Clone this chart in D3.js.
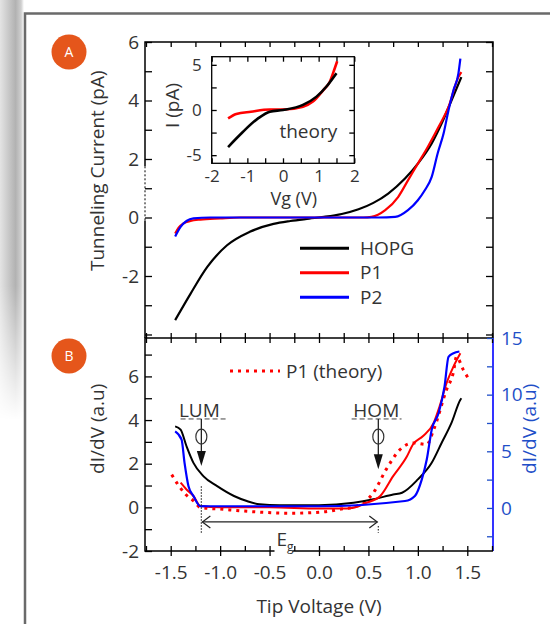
<!DOCTYPE html>
<html>
<head>
<meta charset="utf-8">
<script src="https://cdn.jsdelivr.net/npm/d3@7"></script>
<style>
body { margin: 0; background: #fff; }
svg { display: block; font-family: "Open Sans", sans-serif; }
</style>
</head>
<body>
<svg></svg>
<script>
// Panel A - tunneling current (pA) vs tip voltage (V)
var hopgV = [-1.455, -1.30, -1.13, -0.93, -0.70, -0.46, -0.29, -0.10, 0.05, 0.23, 0.40, 0.55, 0.70, 0.87, 1.00, 1.14, 1.24, 1.34, 1.44];
var hopgI = [-3.51, -2.61, -1.69, -0.95, -0.49, -0.22, -0.12, -0.04, 0.02, 0.12, 0.28, 0.50, 0.82, 1.33, 1.84, 2.53, 3.21, 4.00, 4.80];
var p1V = [-1.455, -1.42, -1.37, -1.30, -1.20, -1.00, -0.80, 0.00, 0.45, 0.53, 0.67, 0.80, 0.90, 1.00, 1.10, 1.21, 1.31, 1.41, 1.44];
var p1I = [-0.55, -0.35, -0.20, -0.12, -0.07, -0.03, 0.00, 0.00, 0.00, 0.02, 0.25, 0.70, 1.27, 1.84, 2.41, 3.10, 3.78, 4.80, 4.97];
var p2V = [-1.455, -1.40, -1.34, -1.27, -1.10, 0.00, 0.60, 0.77, 0.90, 1.00, 1.07, 1.14, 1.20, 1.26, 1.31, 1.36, 1.41, 1.43];
var p2I = [-0.65, -0.32, -0.12, -0.03, 0.00, 0.00, 0.00, 0.02, 0.25, 0.59, 0.93, 1.39, 2.19, 2.87, 3.67, 4.35, 4.92, 5.43];

// inset - theory I(Vg)
var thHopgV = [-1.54, -1.17, -0.70, -0.37, 0.00, 0.56, 0.94, 1.22, 1.50];
var thHopgI = [-4.10, -2.60, -0.93, -0.19, 0.00, 0.56, 1.48, 2.60, 4.07];
var thP1V = [-1.54, -1.31, -0.90, -0.37, 0.00, 0.56, 0.84, 1.13, 1.31, 1.45, 1.52];
var thP1I = [-0.93, -0.44, -0.19, 0.05, 0.05, 0.37, 0.93, 2.20, 3.10, 4.60, 5.40];

// Panel B - dI/dV (a.u)
var bHopgV = [-1.455, -1.40, -1.34, -1.27, -1.17, -1.03, -0.86, -0.73, -0.60, -0.40, 0.00, 0.35, 0.55, 0.75, 0.84, 1.00, 1.14, 1.24, 1.34, 1.43, 1.44];
var bHopgD = [3.71, 3.56, 2.80, 2.04, 1.43, 0.97, 0.52, 0.29, 0.14, 0.10, 0.10, 0.21, 0.37, 0.59, 0.67, 1.28, 2.04, 2.95, 3.87, 4.93, 5.00];
var bP2V = [-1.455, -1.39, -1.36, -1.32, -1.27, -1.20, -1.00, 0.00, 0.87, 0.97, 1.04, 1.09, 1.14, 1.21, 1.27, 1.31, 1.36, 1.42];
var bP2D = [3.48, 3.10, 2.04, 0.97, 0.52, 0.06, 0.05, 0.05, 0.29, 0.52, 1.28, 2.19, 3.56, 4.32, 5.54, 6.90, 7.06, 7.14];
var bP1V = [-1.40, -1.34, -1.27, -1.20, -1.00, -0.50, 0.00, 0.30, 0.48, 0.62, 0.75, 0.89, 0.95, 1.05, 1.16, 1.22, 1.29, 1.36, 1.43];
var bP1D = [1.13, 0.82, 0.52, 0.06, 0.00, 0.00, -0.05, -0.05, 0.21, 0.52, 1.43, 2.34, 2.88, 3.26, 3.87, 4.63, 5.69, 6.45, 7.06];
var bP1thV = [-1.49, -1.42, -1.35, -1.27, -1.20, -0.97, -0.63, -0.29, 0.04, 0.21, 0.38, 0.55, 0.68, 0.82, 0.95, 1.09, 1.16, 1.29, 1.36, 1.39, 1.46, 1.52];
var bP1thD = [1.50, 1.00, 0.60, 0.30, 0.00, -0.09, -0.21, -0.27, -0.21, -0.09, 0.06, 0.67, 1.74, 2.65, 2.95, 2.88, 3.56, 5.39, 6.20, 6.90, 6.30, 5.84];

// annotations (voltages)
var lumV = -1.19, homV = 0.60;

// ticks
var xTicks = [-1.5, -1.0, -0.5, 0.0, 0.5, 1.0, 1.5];
var xMinor = [-1.75, -1.5, -1.25, -1.0, -0.75, -0.5, -0.25, 0, 0.25, 0.5, 0.75, 1.0, 1.25, 1.5, 1.75];
var aYTicks = [-2, 0, 2, 4, 6];
var aYMinor = [-4, -3, -2, -1, 0, 1, 2, 3, 4, 5, 6];
var bYTicks = [-2, 0, 2, 4, 6];
var bYMinor = [-2, -1, 0, 1, 2, 3, 4, 5, 6, 7];
var bRTicks = [0, 5, 10, 15];
var bRMinor = [-2.5, 0, 2.5, 5, 7.5, 10, 12.5, 15];
var inXTicks = [-2, -1, 0, 1, 2];
var inXMinor = [-2, -1.5, -1, -0.5, 0, 0.5, 1, 1.5, 2];
var inYTicks = [-5, 0, 5];
var inYMinor = [-5, -2.5, 0, 2.5, 5];

function zip(xs, ys) {
    return xs.map(function (x, i) { return { x: x, y: ys[i] }; });
}

function axisGroup(parent, axis, tx, ty, size, color) {
    var g = parent.append('g')
        .attr('transform', 'translate(' + tx + ',' + ty + ')')
        .call(axis);
    g.select('.domain').remove();
    g.attr('font-family', null).attr('font-size', size);
    g.selectAll('line').attr('stroke', color || '#000').attr('stroke-width', 1.3);
    g.selectAll('text').attr('fill', color || '#333');
    return g;
}

function drawChart() {
    var svg = d3.select('svg').attr('width', 550).attr('height', 624);
    var defs = svg.append('defs');

    // grey shadow on the left edge
    var sh = defs.append('linearGradient').attr('id', 'shade');
    sh.append('stop').attr('offset', '0%').attr('stop-color', '#e4e4e4');
    sh.append('stop').attr('offset', '65%').attr('stop-color', '#b2b2b2');
    sh.append('stop').attr('offset', '88%').attr('stop-color', '#cfcfcf');
    sh.append('stop').attr('offset', '100%').attr('stop-color', '#fff');
    var fg = defs.append('linearGradient').attr('id', 'fadeG')
        .attr('x1', 0).attr('y1', 0).attr('x2', 0).attr('y2', 1);
    fg.append('stop').attr('offset', '0%').attr('stop-color', '#fff');
    fg.append('stop').attr('offset', '68%').attr('stop-color', '#fff');
    fg.append('stop').attr('offset', '100%').attr('stop-color', '#000');
    defs.append('mask').attr('id', 'fadeM')
        .append('rect').attr('x', 0).attr('y', 0).attr('width', 24).attr('height', 420)
        .attr('fill', 'url(#fadeG)');
    svg.append('rect').attr('x', 0).attr('y', 0).attr('width', 24).attr('height', 420)
        .attr('fill', 'url(#shade)').attr('mask', 'url(#fadeM)');

    // outer frame
    svg.append('path').attr('d', 'M25,640V13.5H560')
        .attr('fill', 'none').attr('stroke', '#6a6a6a').attr('stroke-width', 2.5);

    var left = 145, right = 493, topA = 42, mid = 338, bottom = 551;

    var x = d3.scaleLinear().domain([-1.76, 1.76]).range([left, right]);
    var yA = d3.scaleLinear().domain([-4.12, 6]).range([mid, topA]);
    var yB = d3.scaleLinear().domain([-2, 7.76]).range([bottom, mid]);
    var yBr = d3.scaleLinear().domain([-3.8, 15]).range([bottom, mid]);

    var lineA = d3.line().x(function (d) { return x(d.x); }).y(function (d) { return yA(d.y); })
        .curve(d3.curveMonotoneX);
    var lineB = d3.line().x(function (d) { return x(d.x); }).y(function (d) { return yB(d.y); })
        .curve(d3.curveMonotoneX);

    // ---------- Panel A ----------
    var g = svg.append('g');
    g.append('path').attr('d', 'M' + left + ',' + mid + 'V' + yA(-0.1) + 'M' + left + ',' + yA(1.75) + 'V' + topA + 'H' + right + 'V' + mid)
        .attr('fill', 'none').attr('stroke', '#000').attr('stroke-width', 1.5);
    g.append('line').attr('x1', left).attr('x2', left).attr('y1', yA(1.75)).attr('y2', yA(-0.1))
        .attr('stroke', '#000').attr('stroke-width', 1).attr('stroke-dasharray', '2,2');

    axisGroup(g, d3.axisTop(x).tickValues(xMinor).tickSize(-5).tickFormat(''), 0, topA, 19);
    axisGroup(g, d3.axisLeft(yA).tickValues(aYMinor).tickSize(-7).tickPadding(6)
        .tickFormat(function (d) { return aYTicks.indexOf(d) >= 0 ? String(d) : ''; }), left, 0, 19);
    axisGroup(g, d3.axisRight(yA).tickValues(aYMinor).tickSize(-7).tickFormat(''), right, 0, 19);

    g.append('text').attr('transform', 'translate(97,' + yA(1.6) + ') rotate(-90)')
        .attr('text-anchor', 'middle').attr('dy', '0.35em')
        .attr('font-size', 19).attr('fill', '#333').text('Tunneling Current (pA)');

    var seriesA = [
        { v: hopgV, i: hopgI, c: '#000' },
        { v: p1V, i: p1I, c: '#f00' },
        { v: p2V, i: p2I, c: '#00f' }
    ];
    seriesA.forEach(function (s) {
        g.append('path').datum(zip(s.v, s.i))
            .attr('fill', 'none').attr('stroke', s.c).attr('stroke-width', 2.2)
            .attr('stroke-linejoin', 'round').attr('d', lineA);
    });

    // legend A
    var legA = [['HOPG', '#000'], ['P1', '#f00'], ['P2', '#00f']];
    legA.forEach(function (l, k) {
        var ly = yA(-1.05) + k * 24.5;
        g.append('line').attr('x1', 300).attr('x2', 349).attr('y1', ly).attr('y2', ly)
            .attr('stroke', l[1]).attr('stroke-width', 3);
        g.append('text').attr('x', 360).attr('y', ly).attr('dy', '0.35em')
            .attr('font-size', 19).attr('fill', '#333').text(l[0]);
    });

    // inset
    var xi = d3.scaleLinear().domain([-2, 2]).range([211.7, 354.3]);
    var yi = d3.scaleLinear().domain([-5.9, 5.9]).range([163.3, 56.7]);
    var lineI = d3.line().x(function (d) { return xi(d.x); }).y(function (d) { return yi(d.y); })
        .curve(d3.curveMonotoneX);
    var ins = svg.append('g');
    ins.append('rect').attr('x', xi(-2)).attr('y', yi(5.9)).attr('width', xi(2) - xi(-2))
        .attr('height', yi(-5.9) - yi(5.9)).attr('fill', '#fff').attr('stroke', '#000').attr('stroke-width', 1.3);
    axisGroup(ins, d3.axisBottom(xi).tickValues(inXMinor).tickSize(-5).tickPadding(7)
        .tickFormat(function (d) { return inXTicks.indexOf(d) >= 0 ? String(d) : ''; }), 0, yi(-5.9), 17);
    axisGroup(ins, d3.axisTop(xi).tickValues(inXMinor).tickSize(-5).tickFormat(''), 0, yi(5.9), 17);
    axisGroup(ins, d3.axisLeft(yi).tickValues(inYMinor).tickSize(-5).tickPadding(10)
        .tickFormat(function (d) { return inYTicks.indexOf(d) >= 0 ? String(d) : ''; }), xi(-2), 0, 17);
    axisGroup(ins, d3.axisRight(yi).tickValues(inYMinor).tickSize(-5).tickFormat(''), xi(2), 0, 17);
    ins.append('path').datum(zip(thP1V, thP1I)).attr('fill', 'none').attr('stroke', '#f00')
        .attr('stroke-width', 2.6).attr('d', lineI);
    ins.append('path').datum(zip(thHopgV, thHopgI)).attr('fill', 'none').attr('stroke', '#000')
        .attr('stroke-width', 2.6).attr('d', lineI);
    ins.append('text').attr('x', xi(-0.1)).attr('y', yi(-3.1)).attr('font-size', 19)
        .attr('fill', '#333').text('theory');
    ins.append('text').attr('x', xi(0.3)).attr('y', 205).attr('text-anchor', 'middle')
        .attr('font-size', 18).attr('fill', '#333').text('Vg (V)');
    ins.append('text').attr('transform', 'translate(172,' + yi(0.5) + ') rotate(-90)')
        .attr('text-anchor', 'middle').attr('dy', '0.35em')
        .attr('font-size', 19).attr('fill', '#333').text('I (pA)');

    // ---------- Panel B ----------
    var b = svg.append('g');
    b.append('path').attr('d', 'M' + right + ',' + mid + 'H' + left + 'V' + bottom + 'H' + right)
        .attr('fill', 'none').attr('stroke', '#000').attr('stroke-width', 1.5);
    b.append('line').attr('x1', right).attr('x2', right).attr('y1', mid).attr('y2', bottom)
        .attr('stroke', '#00f').attr('stroke-width', 1.6);

    axisGroup(b, d3.axisTop(x).tickValues(xMinor).tickSize(5).tickFormat(''), 0, mid, 19);
    axisGroup(b, d3.axisBottom(x).tickValues(xMinor).tickSize(5).tickFormat(''), 0, mid, 19);
    axisGroup(b, d3.axisBottom(x).tickValues(xMinor).tickSize(-5).tickFormat(''), 0, bottom, 19);
    axisGroup(b, d3.axisBottom(x).tickValues(xTicks).tickSize(5).tickPadding(10)
        .tickFormat(function (d) { return d.toFixed(1); }), 0, bottom, 19);
    axisGroup(b, d3.axisLeft(yB).tickValues(bYMinor).tickSize(-7).tickPadding(6)
        .tickFormat(function (d) { return bYTicks.indexOf(d) >= 0 ? String(d) : ''; }), left, 0, 19);
    axisGroup(b, d3.axisRight(yBr).tickValues(bRMinor).tickSize(-6).tickPadding(8)
        .tickFormat(function (d) { return bRTicks.indexOf(d) >= 0 ? String(d) : ''; }), right, 0, 19, '#1f4fc8');

    b.append('text').attr('transform', 'translate(97,' + yB(3.6) + ') rotate(-90)')
        .attr('text-anchor', 'middle').attr('dy', '0.35em')
        .attr('font-size', 19).attr('fill', '#333').text('dI/dV (a.u)');
    b.append('text').attr('transform', 'translate(529,' + yB(3.6) + ') rotate(-90)')
        .attr('text-anchor', 'middle').attr('dy', '0.35em')
        .attr('font-size', 19).attr('fill', '#1f4fc8').text('dI/dV (a.u)');
    b.append('text').attr('x', x(0)).attr('y', 606).attr('text-anchor', 'middle').attr('dy', '0.35em')
        .attr('font-size', 19).attr('fill', '#333').text('Tip Voltage (V)');

    b.append('path').datum(zip(bP1thV, bP1thD)).attr('fill', 'none').attr('stroke', '#f00')
        .attr('stroke-width', 3).attr('stroke-dasharray', '3,5').attr('d', lineB);
    b.append('path').datum(zip(bHopgV, bHopgD)).attr('fill', 'none').attr('stroke', '#000')
        .attr('stroke-width', 2).attr('d', lineB);
    b.append('path').datum(zip(bP1V, bP1D)).attr('fill', 'none').attr('stroke', '#f00')
        .attr('stroke-width', 2).attr('d', lineB);
    b.append('path').datum(zip(bP2V, bP2D)).attr('fill', 'none').attr('stroke', '#00f')
        .attr('stroke-width', 2.2).attr('d', lineB);

    // legend B
    b.append('line').attr('x1', 230).attr('x2', 280).attr('y1', yB(6.25)).attr('y2', yB(6.25))
        .attr('stroke', '#f00').attr('stroke-width', 3).attr('stroke-dasharray', '3,5');
    b.append('text').attr('x', 286).attr('y', yB(6.25)).attr('dy', '0.35em')
        .attr('font-size', 19).attr('fill', '#333').text('P1 (theory)');

    // LUM / HOM markers
    [['LUM', lumV, -0.21, 0.27, 1.90], ['HOM', homV, -0.27, 0.235, 1.75]].forEach(function (m) {
        var cx = x(m[1]);
        b.append('text').attr('x', cx - 2).attr('y', yB(4.15)).attr('text-anchor', 'middle')
            .attr('font-size', 19).attr('fill', '#333').text(m[0]);
        b.append('line').attr('x1', x(m[1] + m[2])).attr('x2', x(m[1] + m[3]))
            .attr('y1', yB(4.05)).attr('y2', yB(4.05))
            .attr('stroke', '#444').attr('stroke-width', 1).attr('stroke-dasharray', '5,3');
        b.append('line').attr('x1', cx).attr('x2', cx).attr('y1', yB(4.05)).attr('y2', yB(m[4] + 0.6))
            .attr('stroke', '#222').attr('stroke-width', 1.3);
        b.append('ellipse').attr('cx', cx).attr('cy', yB(3.24)).attr('rx', 5.5).attr('ry', 7.5)
            .attr('fill', 'none').attr('stroke', '#333').attr('stroke-width', 1.2);
        var ty = yB(m[4]);
        b.append('path').attr('d', 'M' + (cx - 4.5) + ',' + (ty - 15) + 'L' + (cx + 4.5) + ',' + (ty - 15) + 'L' + cx + ',' + ty + 'Z')
            .attr('fill', '#111');
    });

    // Eg arrow
    var ay = yB(-0.67);
    b.append('line').attr('x1', x(lumV)).attr('x2', x(lumV)).attr('y1', yB(0.97)).attr('y2', yB(-1.16))
        .attr('stroke', '#333').attr('stroke-width', 1.2).attr('stroke-dasharray', '1.5,1.5');
    b.append('line').attr('x1', x(homV)).attr('x2', x(homV)).attr('y1', yB(-0.85)).attr('y2', yB(-1.16))
        .attr('stroke', '#333').attr('stroke-width', 1.2).attr('stroke-dasharray', '1.5,1.5');
    b.append('line').attr('x1', x(lumV) + 1).attr('x2', x(homV) - 1).attr('y1', ay).attr('y2', ay)
        .attr('stroke', '#222').attr('stroke-width', 1.3);
    b.append('path').attr('d', 'M' + (x(lumV) + 9) + ',' + (ay - 6) + 'L' + (x(lumV) + 1) + ',' + ay + 'L' + (x(lumV) + 9) + ',' + (ay + 6) +
        'M' + (x(homV) - 9) + ',' + (ay - 6) + 'L' + (x(homV) - 1) + ',' + ay + 'L' + (x(homV) - 9) + ',' + (ay + 6))
        .attr('fill', 'none').attr('stroke', '#222').attr('stroke-width', 1.2);
    b.append('rect').attr('x', x(-0.45)).attr('y', bottom - 6).attr('width', x(-0.27) - x(-0.45)).attr('height', 12)
        .attr('fill', '#fff');
    var eg = b.append('text').attr('x', x(-0.43)).attr('y', yB(-1.75)).attr('font-size', 19).attr('fill', '#333');
    eg.append('tspan').text('E');
    eg.append('tspan').attr('font-size', 12).attr('dy', 5).text('g');

    // panel badges
    [['A', 52], ['B', 356]].forEach(function (p) {
        svg.append('circle').attr('cx', 69).attr('cy', p[1]).attr('r', 17.5).attr('fill', '#e5561b');
        svg.append('text').attr('x', 69).attr('y', p[1]).attr('dy', '0.35em').attr('text-anchor', 'middle')
            .attr('font-size', 14).attr('fill', '#fff').text(p[0]);
    });
}

document.addEventListener('DOMContentLoaded', function () {
    drawChart();
});
</script>
</body>
</html>
